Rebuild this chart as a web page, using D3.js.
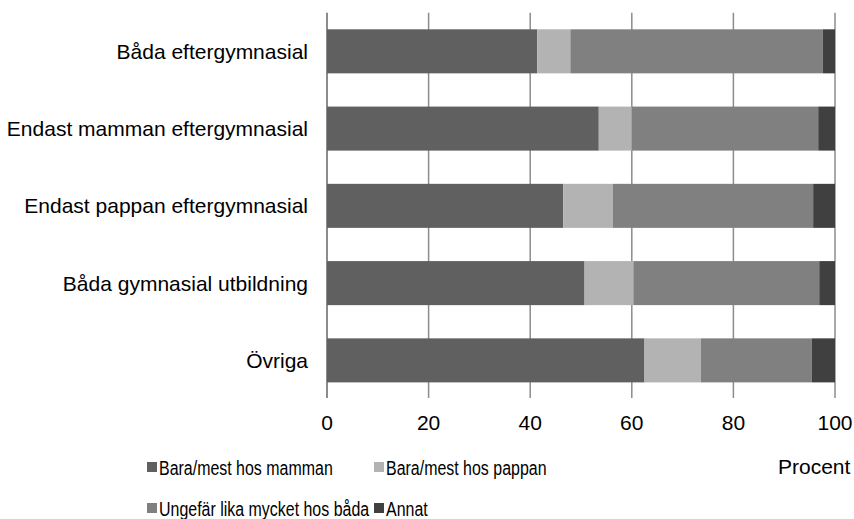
<!DOCTYPE html>
<html lang="sv">
<head>
  <meta charset="UTF-8">
  <title>Boende efter föräldrarnas utbildning</title>
  <style>
    body { margin: 0; background: #fff; font-family: "Liberation Sans", Arial, sans-serif; }
    svg text { font-family: "Liberation Sans", Arial, sans-serif; font-size: 21px; fill: #000; }
  </style>
  <script src="https://d3js.org/d3.v7.min.js"></script>
</head>
<body>
  <div id="chart"></div>
  <script>
    var categories = [
      'Båda eftergymnasial',
      'Endast mamman eftergymnasial',
      'Endast pappan eftergymnasial',
      'Båda gymnasial utbildning',
      'Övriga'
    ];
    var seriesNames = ['Bara/mest hos mamman', 'Bara/mest hos pappan', 'Ungefär lika mycket hos båda', 'Annat'];
    var mamman  = [41.4, 53.5, 46.5, 50.7, 62.5];
    var pappan  = [6.5, 6.5, 9.8, 9.6, 11.1];
    var bada    = [49.7, 36.7, 39.4, 36.6, 21.8];
    var annat   = [2.4, 3.3, 4.3, 3.1, 4.6];
    var xTicks  = [0, 20, 40, 60, 80, 100];
    var xTitle  = 'Procent';

    var colors = ['#606060', '#b3b3b3', '#808080', '#404040'];
    var width = 854, height = 519;
    var plotLeft = 327, plotRight = 835, plotTop = 12.7, plotBottom = 399;

    var rows = categories.map(function(c, i) {
      return { name: c, values: [mamman[i], pappan[i], bada[i], annat[i]] };
    });

    var x = d3.scaleLinear().domain([0, 100]).range([plotLeft, plotRight]);
    var y = d3.scaleBand().domain(categories).range([plotTop, plotBottom]).paddingInner(0.43).paddingOuter(0.215);

    var svg = d3.select('#chart').append('svg')
      .attr('width', width)
      .attr('height', height);

    // vertical gridlines (they double as tick marks below the last bar)
    svg.append('g').selectAll('line').data(xTicks).enter().append('line')
      .attr('x1', function(d) { return x(d); })
      .attr('x2', function(d) { return x(d); })
      .attr('y1', plotTop)
      .attr('y2', plotBottom - 1)
      .attr('stroke', '#8c8c8c')
      .attr('stroke-width', function(d) { return d === 0 ? 2 : 1.5; });

    // stacked bars
    var stack = d3.stack().keys([0, 1, 2, 3]).value(function(d, k) { return d.values[k]; });
    var layers = stack(rows);

    svg.append('g').selectAll('g').data(layers).enter().append('g')
      .attr('fill', function(d, i) { return colors[i]; })
      .selectAll('rect').data(function(d) { return d; }).enter().append('rect')
      .attr('x', function(d) { return x(d[0]); })
      .attr('width', function(d) { return x(d[1]) - x(d[0]); })
      .attr('y', function(d) { return y(d.data.name); })
      .attr('height', y.bandwidth());

    // x tick labels
    svg.append('g').selectAll('text').data(xTicks).enter().append('text')
      .attr('x', function(d) { return x(d); })
      .attr('y', 430)
      .attr('text-anchor', 'middle')
      .text(function(d) { return d; });

    // category labels
    svg.append('g').selectAll('text').data(categories).enter().append('text')
      .attr('x', 308)
      .attr('y', function(d) { return y(d) + y.bandwidth() / 2 + 7.5; })
      .attr('text-anchor', 'end')
      .text(function(d) { return d; });

    // legend, two columns, narrow text like the source
    var legendPos = [[147, 462], [374, 462], [147, 503], [374, 503]];
    var legend = svg.append('g')
      .selectAll('g').data(seriesNames).enter().append('g')
      .attr('transform', function(d, i) { return 'translate(' + legendPos[i][0] + ',' + legendPos[i][1] + ')'; });
    legend.append('rect')
      .attr('width', 10).attr('height', 10)
      .attr('fill', function(d, i) { return colors[i]; });
    legend.append('text')
      .attr('transform', 'translate(12,12.5) scale(0.76,1)')
      .text(function(d) { return d; });

    svg.append('text')
      .attr('x', 778).attr('y', 474)
      .text(xTitle);
  </script>
</body>
</html>
